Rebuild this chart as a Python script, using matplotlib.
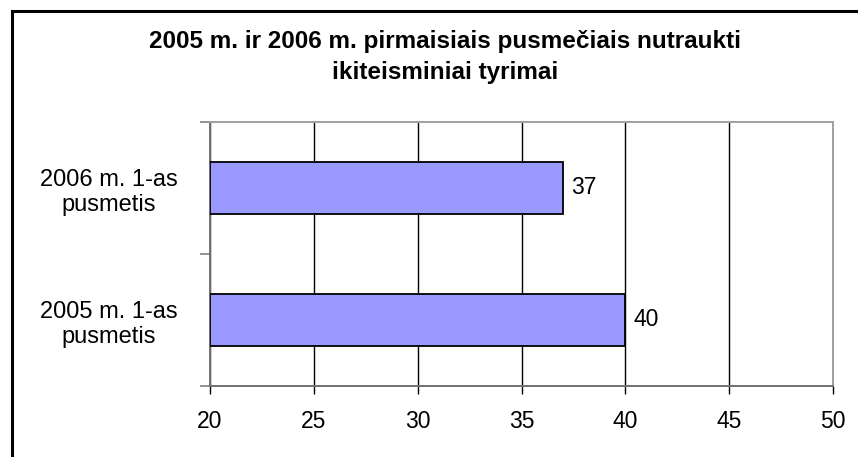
import matplotlib
matplotlib.use("Agg")
import matplotlib.pyplot as plt
from matplotlib.patches import Rectangle

plt.rcParams['font.family'] = ['Liberation Sans', 'DejaVu Sans']

categories = ["2005 m. 1-as\npusmetis", "2006 m. 1-as\npusmetis"]
values = [40, 37]
xticks = [20, 25, 30, 35, 40, 45, 50]
title = "2005 m. ir 2006 m. pirmaisiais pusmečiais nutraukti\nikiteisminiai tyrimai"

W, H = 858, 457
fig = plt.figure(figsize=(W / 100, H / 100), dpi=100)
fig.patch.set_facecolor('white')

# outer frame (left and top visible)
fig.add_artist(Rectangle((12 / W, -0.05), 1.2, 1.05 - 10.5 / H, transform=fig.transFigure,
                         fill=False, edgecolor='black', linewidth=2.2))

ax = fig.add_axes([210 / W, 71 / H, 623 / W, 264 / H])
ypos = list(range(len(categories)))
ax.barh(ypos, [v - 20 for v in values], left=20, height=0.4,
        color='#9999FF', edgecolor='black', linewidth=1.3, zorder=3)

ax.set_xlim(20, 50)
ax.set_ylim(-0.5, 1.5)
ax.set_xticks(xticks)
ax.set_xticklabels([str(t) for t in xticks], fontsize=16.5)
ax.xaxis.grid(True, color='black', linewidth=1.0, zorder=0)
ax.set_axisbelow(True)

ax.set_yticks([-0.5, 0.5, 1.5])
ax.set_yticklabels([])
ax.set_yticks(ypos, minor=True)
ax.set_yticklabels(categories, minor=True, fontsize=17, ha='center',
                   multialignment='center', linespacing=1.2)
ax.tick_params(axis='y', which='minor', length=0, pad=73)
ax.tick_params(axis='y', which='major', length=7, color='#808080', width=1.2)
ax.tick_params(axis='x', which='major', length=6, color='black', width=1.0, pad=11)

for s in ['left', 'bottom']:
    ax.spines[s].set_color('#707070')
    ax.spines[s].set_linewidth(1.4)
for s in ['top', 'right']:
    ax.spines[s].set_color('#a0a0a0')
    ax.spines[s].set_linewidth(1.4)

for y, v in zip(ypos, values):
    ax.annotate(str(v), xy=(v, y), xytext=(6, 0), textcoords='offset points',
                va='center', ha='left', fontsize=16.5)

fig.text(445 / W, 1 - 57 / H, title, ha='center', va='center', fontsize=17.5,
         fontweight='bold', linespacing=1.4)

fig.savefig('out.png', dpi=100)
